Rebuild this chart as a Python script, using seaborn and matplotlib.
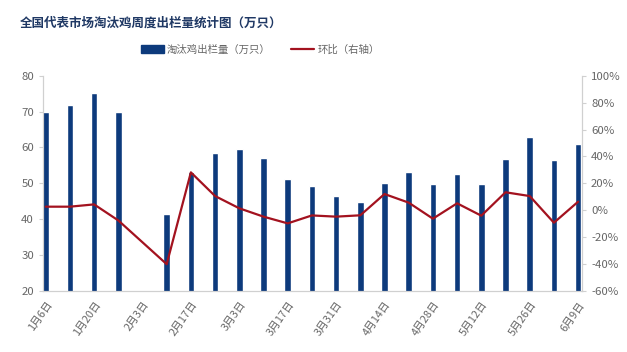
import numpy as np
import pandas as pd
import matplotlib.pyplot as plt
import seaborn as sns
from matplotlib.lines import Line2D
from matplotlib.patches import Patch

sns.set_style("white")
plt.rcParams['font.family'] = ['Noto Sans CJK SC', 'DejaVu Sans']
plt.rcParams['axes.unicode_minus'] = False

weeks = ['1月6日', '1月13日', '1月20日', '1月27日', '2月3日', '2月10日', '2月17日',
         '2月24日', '3月3日', '3月10日', '3月17日', '3月24日', '3月31日', '4月7日',
         '4月14日', '4月21日', '4月28日', '5月5日', '5月12日', '5月19日', '5月26日',
         '6月2日', '6月9日']
volume = [70.0, 71.7, 75.3, 70.0, np.nan, 41.4, 53.2, 58.6, 59.7, 57.0, 51.2, 49.2,
          46.5, 44.8, 50.0, 53.1, 49.7, 52.6, 49.7, 56.7, 62.8, 56.5, 60.9]
ratio = [2.7, 2.7, 4.4, -7.5, np.nan, -40.0, 28.2, 10.6, 1.5, -4.7, -9.7, -3.8,
         -4.7, -3.7, 12.1, 5.7, -6.2, 5.2, -4.0, 13.4, 10.6, -9.2, 6.4]

bar_color = '#0D3A7C'
line_color = '#A3121F'
grey = '#666666'
axis_grey = '#D0D0D0'

df = pd.DataFrame({'week': weeks, 'volume': volume, 'ratio': ratio})
df['pos'] = np.arange(len(df))

fig = plt.figure(figsize=(6.27, 3.52), dpi=100)
ax = fig.add_axes([0.0686, 0.173, 0.8596, 0.612])

sns.barplot(data=df, x='week', y='volume', order=weeks, color=bar_color,
            width=0.27, saturation=1, ax=ax)
ax.set_ylim(20, 80)
ax.set_yticks(range(20, 81, 10))
ax.set_xlim(-0.11, len(weeks) - 1 + 0.16)
ax.set_xlabel('')
ax.set_ylabel('')

ax2 = ax.twinx()
line_df = df.dropna(subset=['ratio'])
sns.lineplot(data=line_df, x='pos', y='ratio', color=line_color, linewidth=1.6, ax=ax2)
ax2.set_ylim(-60, 100)
ax2.set_yticks(range(-60, 101, 20))
ax2.set_yticklabels([f'{v}%' for v in range(-60, 101, 20)])
ax2.set_xlim(ax.get_xlim())
ax2.set_ylabel('')
ax2.set_xlabel('')

tick_pos = list(range(0, len(weeks), 2))
ax.set_xticks(tick_pos)
ax.set_xticklabels([weeks[i] for i in tick_pos], rotation=55, ha='right',
                   rotation_mode='anchor', fontsize=7.8, color=grey)

for a in (ax, ax2):
    for s in a.spines.values():
        s.set_color(axis_grey)
        s.set_linewidth(0.8)
    a.spines['top'].set_visible(False)
    a.tick_params(axis='y', labelsize=8.2, colors=axis_grey, length=3, width=0.8)
ax.tick_params(axis='x', colors=axis_grey, length=3, width=0.8, pad=3)
for t in ax.get_xticklabels() + ax.get_yticklabels() + ax2.get_yticklabels():
    t.set_color(grey)

fig.text(0.032, 0.935, '全国代表市场淘汰鸡周度出栏量统计图（万只）', fontsize=9,
         fontweight='bold', color='#1F3864', ha='left', va='center')

handles = [Patch(color=bar_color), Line2D([0], [0], color=line_color, linewidth=1.6)]
fig.legend(handles, ['淘汰鸡出栏量（万只）', '环比（右轴）'], loc='center',
           bbox_to_anchor=(0.415, 0.858), ncol=2, frameon=False, fontsize=7.5,
           labelcolor=grey, handlelength=2.2, handleheight=0.8, columnspacing=2,
           handletextpad=0.3)

fig.savefig('out.png', dpi=100)
